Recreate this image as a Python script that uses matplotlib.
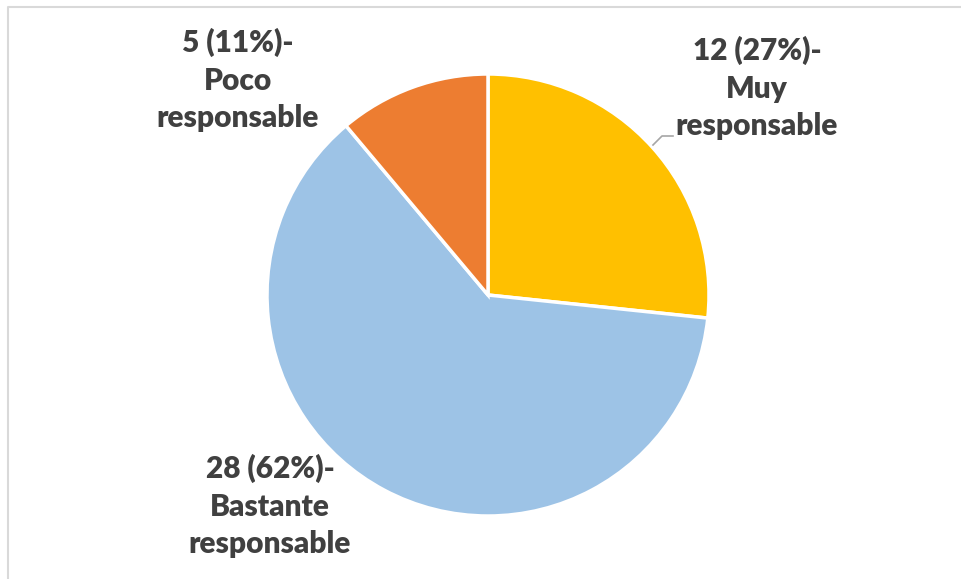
import matplotlib
matplotlib.use("Agg")
import matplotlib.pyplot as plt
from matplotlib.lines import Line2D

categories = ["Muy responsable", "Bastante responsable", "Poco responsable"]
values = [12, 28, 5]
percents = ["27%", "62%", "11%"]
colors = ["#FFC000", "#9DC3E6", "#ED7D31"]

W, H = 961, 579
fig = plt.figure(figsize=(W / 100, H / 100), dpi=100)
ax = fig.add_axes([0, 0, 1, 1])

cx, cy, r = 488, 295, 221
ax.pie(values, colors=colors, startangle=-90, counterclock=True,
       center=(cx, cy), radius=r, frame=True,
       wedgeprops=dict(edgecolor="white", linewidth=2.5))
ax.set_xlim(0, W)
ax.set_ylim(H, 0)
ax.set_aspect("equal")
ax.axis("off")

font = dict(family=["Lato", "DejaVu Sans"], fontweight="heavy", fontsize=21.5,
            color="#404040", ha="center", va="center", linespacing=1.42)

label_pos = {0: (757, 88), 1: (270, 506), 2: (238, 80)}
for i, (cat, v, p) in enumerate(zip(categories, values, percents)):
    first, second = cat.split(" ", 1)
    txt = f"{v} ({p})-\n{first}\n{second}"
    x, y = label_pos[i]
    ax.text(x, y, txt, **font)

ax.add_line(Line2D([653, 662, 673], [145, 136, 136], color="#A6A6A6", lw=1.2))

# chart border (top and left visible)
ax.add_line(Line2D([8, 8, W], [H, 7, 7], color="#D9D9D9", lw=1.5))

fig.savefig("out.png", dpi=100)
